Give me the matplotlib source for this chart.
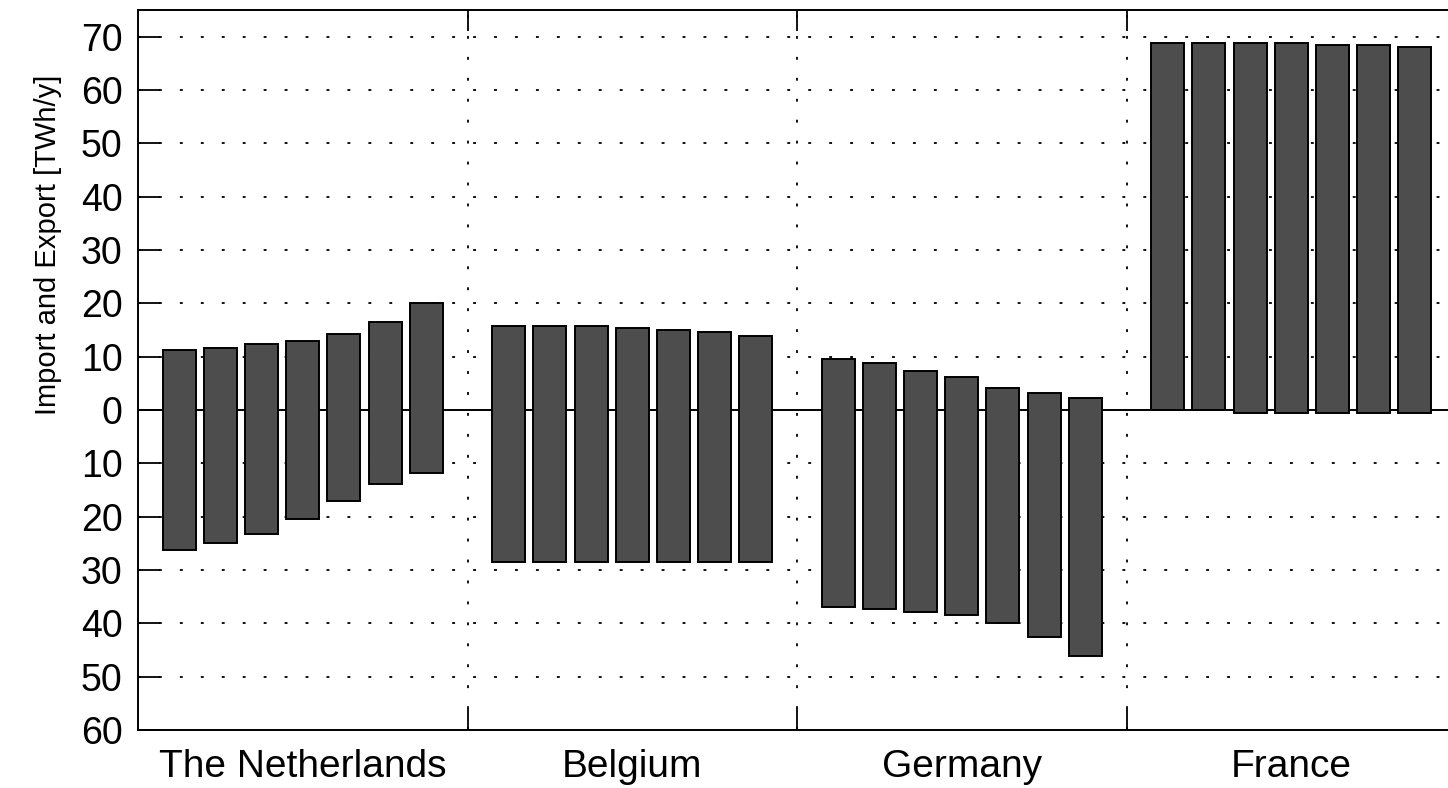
import numpy as np
import matplotlib.pyplot as plt

plt.rcParams.update({"font.family": "Liberation Sans", "font.size": 17})

countries = ["The Netherlands", "Belgium", "Germany", "France"]
# export (top) and import (bottom, negative) per scenario, TWh/y
tops = [
    [11.2, 11.6, 12.3, 13.0, 14.3, 16.5, 20.0],
    [15.8, 15.8, 15.8, 15.3, 15.0, 14.6, 13.8],
    [9.6, 8.9, 7.3, 6.1, 4.2, 3.1, 2.3],
    [68.8, 68.8, 68.8, 68.8, 68.5, 68.5, 68.0],
]
bottoms = [
    [-26.2, -25.0, -23.2, -20.4, -17.0, -13.9, -11.9],
    [-28.5, -28.5, -28.5, -28.5, -28.5, -28.5, -28.5],
    [-36.9, -37.4, -37.8, -38.5, -40.0, -42.6, -46.1],
    [0.0, 0.0, -0.5, -0.5, -0.5, -0.5, -0.5],
]
yticks = np.arange(-60, 71, 10)

fig = plt.figure(figsize=(14.48, 7.88), dpi=100)
ax = fig.add_axes([138 / 1448, 1 - 730 / 788, 1318 / 1448, 720 / 788])

nbar = len(tops[0])
gw = nbar + 1
for g in range(len(countries)):
    x = g * gw + np.arange(1, nbar + 1)
    lo = np.array(bottoms[g])
    hi = np.array(tops[g])
    ax.bar(x, hi - lo, bottom=lo, width=0.8, color="#4d4d4d",
           edgecolor="black", linewidth=1.4, zorder=3)

dots = (0, (1.6, 10))
for v in yticks[1:]:
    if v == 0:
        continue
    ax.axhline(v, color="black", lw=1.3, ls=dots, zorder=1)
bounds = np.arange(1, len(countries)) * gw
for b in bounds:
    ax.axvline(b, color="black", lw=1.3, ls=dots, zorder=1)
ax.axhline(0, color="black", lw=1.4, zorder=2)

ax.set_xlim(0, len(countries) * gw)
ax.set_ylim(-60, 75)
ax.set_yticks(yticks)
ax.set_yticklabels([str(abs(v)) for v in yticks])
ax.tick_params(axis="y", direction="in", length=16, width=1.3, pad=11,
               labelsize=27)
ax.set_xticks(bounds)
ax.set_xticklabels([])
ax.tick_params(axis="x", which="major", direction="in", length=15, width=1.3,
               top=True)
ax.set_xticks(np.arange(len(countries)) * gw + gw / 2, minor=True)
ax.set_xticklabels(countries, minor=True)
ax.tick_params(axis="x", which="minor", length=0, pad=14, labelsize=28)

for s in ax.spines.values():
    s.set_linewidth(1.4)

ax.set_ylabel("Import and Export [TWh/y]", fontsize=21)
ax.yaxis.set_label_coords(-0.058, 0.674)

fig.savefig("out.png", dpi=100)
